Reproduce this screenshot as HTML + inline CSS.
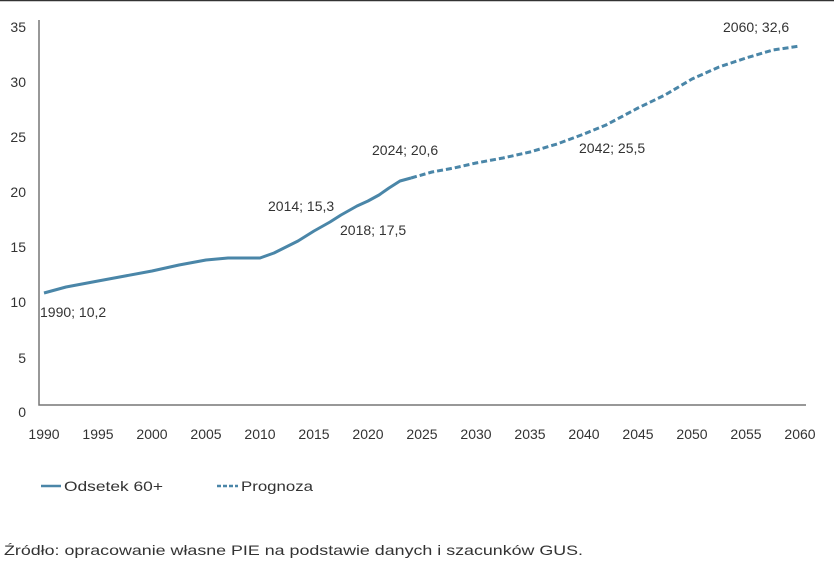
<!DOCTYPE html><html><head><meta charset="utf-8"><style>body{margin:0;background:#fff}svg{display:block;font-family:"Liberation Sans",sans-serif}</style></head><body>
<svg width="834" height="585" viewBox="0 0 834 585">
<line x1="0" y1="0.5" x2="834" y2="0.5" stroke="#333" stroke-width="1.5"/>
<g fill="#333" font-size="14" text-anchor="end">
<text x="26" y="32">35</text><text x="26" y="87">30</text><text x="26" y="142">25</text><text x="26" y="197">20</text><text x="26" y="252">15</text><text x="26" y="307">10</text><text x="26" y="363">5</text><text x="26" y="417">0</text></g>
<polyline points="39,20 39,405 806,405" fill="none" stroke="#777" stroke-width="1.5"/>
<g fill="#333" font-size="14" text-anchor="middle">
<text x="44" y="439">1990</text><text x="98" y="439">1995</text><text x="152" y="439">2000</text><text x="206" y="439">2005</text><text x="260" y="439">2010</text><text x="314" y="439">2015</text><text x="368" y="439">2020</text><text x="422" y="439">2025</text><text x="476" y="439">2030</text><text x="530" y="439">2035</text><text x="584" y="439">2040</text><text x="638" y="439">2045</text><text x="692" y="439">2050</text><text x="746" y="439">2055</text><text x="800" y="439">2060</text></g>
<polyline fill="none" stroke="#4a86a8" stroke-width="3" stroke-linejoin="round" points="44,293 66,287 98,281 125,276 152,271 179,265 206,260 228,258 260,258 274,253 282,249 298,241 314,231 330,222 341,215 357,206 368,201 379,195 389,188 400,181 411,178"/>
<polyline fill="none" stroke="#4a86a8" stroke-width="3" stroke-dasharray="6,3" stroke-linejoin="round" points="411,178 432,172 454,168 476,163 503,158 530,152 557,144 584,134 606,125 638,108 665,95 692,79 719,67 746,58 773,50 800,46"/>
<g fill="#333" font-size="14">
<text x="40" y="317">1990; 10,2</text><text x="268" y="211">2014; 15,3</text><text x="340" y="235">2018; 17,5</text><text x="372" y="155">2024; 20,6</text><text x="579" y="153">2042; 25,5</text><text x="723" y="32">2060; 32,6</text>
<text x="64" y="491" textLength="99" lengthAdjust="spacingAndGlyphs">Odsetek 60+</text><text x="241" y="491" textLength="72" lengthAdjust="spacingAndGlyphs">Prognoza</text>
<text x="4" y="555" textLength="579" lengthAdjust="spacingAndGlyphs">Źródło: opracowanie własne PIE na podstawie danych i szacunków GUS.</text></g>
<line x1="41" y1="486" x2="61" y2="486" stroke="#4a86a8" stroke-width="2.5"/>
<line x1="217" y1="486" x2="238" y2="486" stroke="#4a86a8" stroke-width="2.5" stroke-dasharray="4,2"/>
</svg></body></html>
